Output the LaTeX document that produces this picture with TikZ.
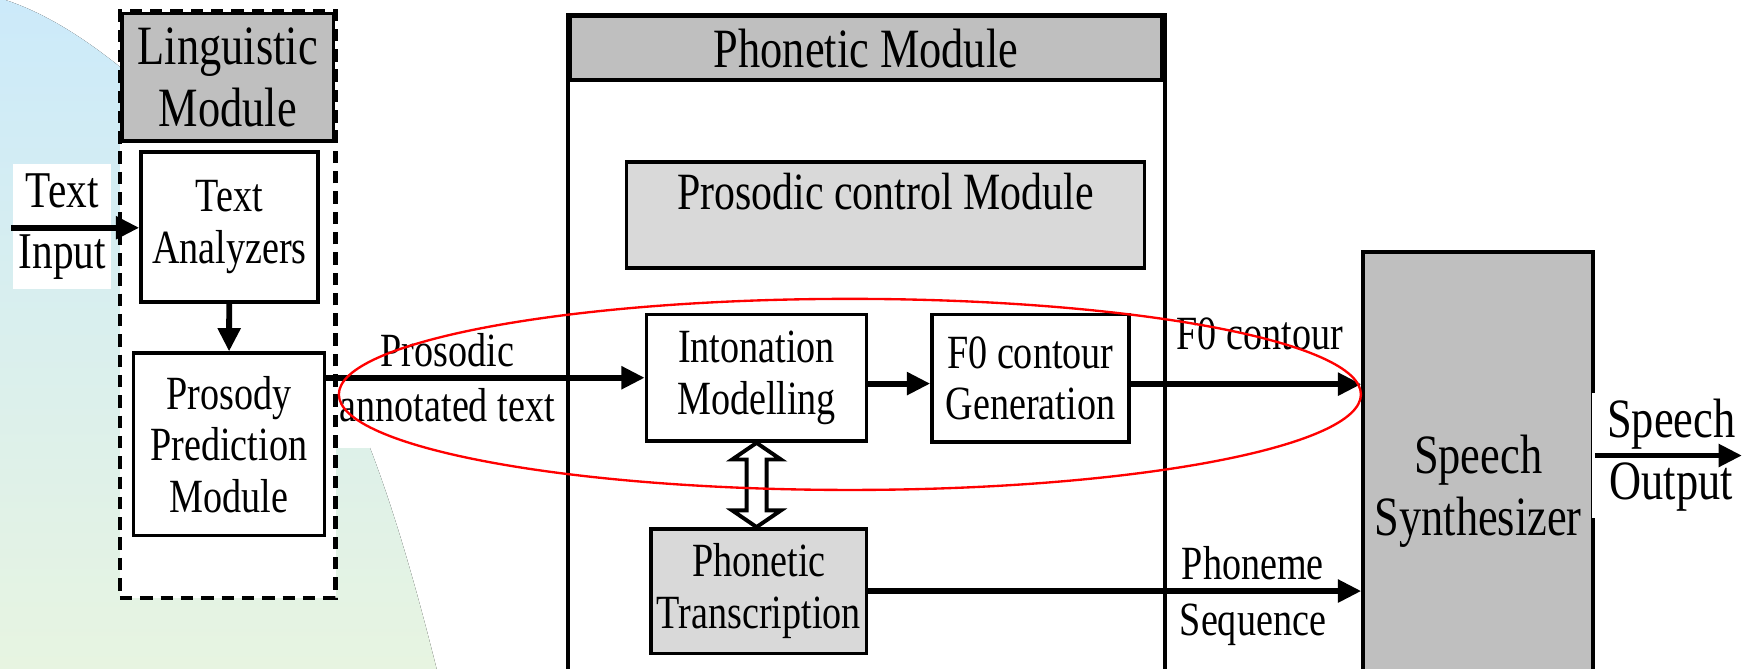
\documentclass[tikz,border=0pt]{standalone}
\usepackage{fontspec}
\setmainfont[FakeStretch=0.8]{Liberation Serif}
\usetikzlibrary{calc,fit,arrows.meta}
\definecolor{colHead}{gray}{0.75}
\definecolor{colSub}{gray}{0.85}
\definecolor{colSkyTop}{RGB}{204,234,250}
\definecolor{colSkyBot}{RGB}{231,244,225}
\newcommand{\bigfont}{\fontsize{14.2}{15.8}\selectfont}
\newcommand{\midfont}{\fontsize{12.2}{13.2}\selectfont}

\begin{document}
\begin{tikzpicture}[x=0.01cm,y=-0.01cm,
    box/.style={draw, line width=0.9pt, inner sep=0pt, align=center, font=\midfont},
    arr/.style={line width=1.5pt, -{Triangle[length=6pt,width=5.6pt]}},
    lbl/.style={font=\midfont, align=center, inner sep=1pt}]

 % ================================================================
 % background
 % ================================================================
	\useasboundingbox (0,0) rectangle (1568,602);
	\clip (0,0) rectangle (1568,602);
	\fill[top color=colSkyTop, bottom color=colSkyBot]
	  (0,0) -- (5,0) .. controls (50,15) and (90,45) .. (120,70) -- (333,403)
	  .. controls (355,460) and (375,530) .. (393,602) -- (0,602) -- cycle;
	\fill[white] (108,0) rectangle (333,403);

        % linguistic module
        \node[draw, line width=1.1pt, dash pattern=on 3.2pt off 2pt, fill=white, inner sep=0pt,
              fit={(108,10) (302,538)}] (ling) {};
        \node[box, fill=colHead, font=\bigfont, minimum width=1.90cm, minimum height=1.15cm]
              (lingtitle) at (205,69.5) {Linguistic\\Module};
        \node[box, fill=white, minimum width=1.59cm, minimum height=1.35cm]
              (txtan) at (206.5,204.5) {Text\\Analyzers};
        \node[box, fill=white, minimum width=1.72cm, minimum height=1.64cm]
              (prospred) at (206,400) {Prosody\\Prediction\\Module};
        \node[fill=white, inner sep=0pt, minimum width=0.88cm, minimum height=1.12cm, align=center,
              font=\fontsize{13.2}{15.5}\selectfont] (txtin) at (56,204) {Text\\Input};

        % phonetic module
        \node[draw, line width=1pt, inner sep=0pt, fit={(511,13) (1049,640)}] (phonmod) {};
        \node[box, fill=colHead, font=\bigfont, minimum width=5.33cm, minimum height=0.57cm]
              (phontitle) at (779.5,43.5) {Phonetic Module};
        \node[box, fill=colSub, minimum width=4.66cm, minimum height=0.95cm]
              (prosctrl) at (797,193.5) {};
        \node[anchor=base, inner sep=0pt, font=\fontsize{13.4}{15}\selectfont] (prosctrltxt)
              at ($(prosctrl.north)+(0,44)$) {Prosodic control Module};
        \node[box, fill=white, minimum width=1.98cm, minimum height=1.14cm]
              (inton) at (681,340) {Intonation\\Modelling};
        \node[box, fill=white, minimum width=1.77cm, minimum height=1.15cm]
              (fzgen) at (927.5,340.5) {F0 contour\\Generation};
        \node[box, fill=colSub, minimum width=1.94cm, minimum height=1.12cm]
              (phontr) at (683,532) {Phonetic\\Transcription};

        % synthesizer
        \node[box, fill=colHead, font=\bigfont, minimum width=2.07cm, minimum height=4.30cm]
              (synth) at (1330.5,442) {Speech\\Synthesizer};
        \node[fill=white, anchor=west, inner xsep=4pt, inner ysep=0pt, minimum height=1.13cm,
              align=center, font=\bigfont] (spout) at (1432,410) {Speech\\Output};

        % links
        \coordinate (tinstart) at (10,205);
        \coordinate (spend) at (1568,410);
        \draw[arr] (tinstart) -- (tinstart -| txtan.west);
        \draw[arr] (txtan) -- (prospred);
        \draw[arr] (prospred.east |- inton.west) -- (inton.west)
              node[lbl, pos=0.38, above=1pt] {Prosodic}
              node[lbl, pos=0.38, below=1pt] {annotated text};
        \draw[arr] ([yshift=-1.5pt]inton.east) -- ([yshift=-1.5pt]inton.east -| fzgen.west);
        \draw[arr] ([yshift=-1.5pt]fzgen.east) -- ([yshift=-1.5pt]fzgen.east -| synth.west)
              node[lbl, pos=0.56, above=7pt] {F0 contour};
        \draw[arr] (phontr.east) -- (phontr.east -| synth.west)
              node[lbl, pos=0.78, above=1pt] {Phoneme}
              node[lbl, pos=0.78, below=1.5pt] {Sequence};
        \draw[arr] (synth.east |- spend) -- (spend);

        % hollow double arrow
        \coordinate (dtop) at (inton.south);
        \coordinate (dbot) at (phontr.north -| inton.south);
        \draw[line width=1pt, fill=white, line join=miter]
              (dtop) -- ++(22,15) -- ++(-13,0) -- ($(dbot)+(9,-15)$) -- ++(13,0) -- (dbot)
              -- ++(-22,-15) -- ++(13,0) -- ($(dtop)+(-9,15)$) -- ++(-13,0) -- cycle;

        % red ring
        \draw[red, line width=0.6pt] (765,355) ellipse[x radius=460, y radius=86];

\end{tikzpicture}
\end{document}
